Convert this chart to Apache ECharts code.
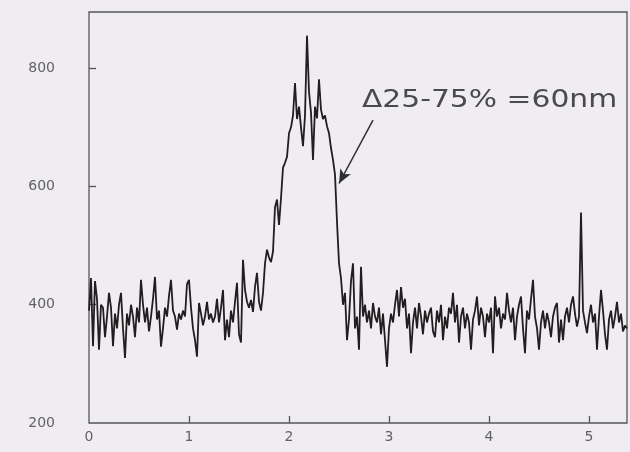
<!DOCTYPE html>
<html>
<head>
<meta charset="utf-8">
<script src="https://cdn.jsdelivr.net/npm/echarts@6/dist/echarts.min.js"></script>
<style>
html,body{margin:0;padding:0;background:#f0edf2;}
#c{width:630px;height:452px;}
</style>
</head>
<body>
<div id="c"></div>
<script>
// sample spacing along x (µm-like units)
const xStep = 0.02;
// profile values, one per sample starting at x = 0
const values = [
  390,445,330,440,410,324,400,395,345,380,
  420,395,330,385,360,400,420,360,310,385,
  365,400,380,345,395,370,442,400,370,395,
  355,380,410,447,375,390,329,360,395,380,
  415,442,390,380,358,385,375,390,380,435,
  442,395,360,340,312,403,385,365,380,405,
  375,385,370,380,410,370,395,425,340,375,
  345,390,370,405,437,350,336,476,425,405,
  395,408,388,430,454,405,390,420,470,493,
  480,472,490,565,578,535,580,632,640,650,
  690,700,720,775,714,735,700,668,720,855,
  760,725,645,735,715,781,730,714,720,702,
  690,665,645,620,540,470,445,400,420,340,
  375,440,470,360,380,324,464,380,400,370,
  390,360,403,380,370,395,350,385,340,295,
  360,385,370,400,425,380,430,395,410,360,
  385,318,370,395,360,403,380,350,390,370,
  385,395,355,345,390,370,400,340,380,360,
  395,385,420,370,400,336,380,395,360,385,
  370,324,375,390,414,365,395,380,345,385,
  370,395,318,414,380,395,360,385,375,420,
  390,370,395,340,380,400,414,360,318,390,
  375,410,442,380,360,324,370,390,360,386,
  370,345,380,395,403,336,375,340,380,395,
  370,400,414,385,363,380,556,390,370,352,
  380,400,370,385,324,380,425,390,350,324,
  375,390,360,380,405,370,385,355,365,360
];
const xTicks = [0, 1, 2, 3, 4, 5];
const yTicks = [200, 400, 600, 800];
const annotationText = 'Δ25-75% =60nm';
// arrow from label to the falling edge, in data units [x, y]
const arrowFrom = [2.84, 712];
const arrowTo = [2.50, 605];

const seriesData = values.map((v, i) => [+(i * xStep).toFixed(2), v]);

const chart = echarts.init(document.getElementById('c'), null, {renderer: 'canvas'});
const labelStyle = {color: '#626262', fontSize: 14, fontFamily: 'DejaVu Sans'};
chart.setOption({
  backgroundColor: '#f0edf2',
  animation: false,
  grid: {left: 89, right: 3, top: 12, bottom: 29, show: true, borderColor: '#555', borderWidth: 1.3, backgroundColor: 'transparent'},
  xAxis: {
    type: 'value', min: 0, max: 5.38,
    axisLine: {show: false},
    splitLine: {show: false},
    axisTick: {show: true, inside: true, length: 7, customValues: xTicks.slice(1), lineStyle: {color: '#555', width: 1.3}},
    axisLabel: Object.assign({margin: 7, customValues: xTicks}, labelStyle)
  },
  yAxis: {
    type: 'value', min: 200, max: 895,
    axisLine: {show: false},
    splitLine: {show: false},
    axisTick: {show: true, inside: true, length: 7, customValues: yTicks.slice(1), lineStyle: {color: '#555', width: 1.3}},
    axisLabel: Object.assign({margin: 34, customValues: yTicks}, labelStyle)
  },
  series: [{
    type: 'line',
    data: seriesData,
    showSymbol: false,
    lineStyle: {color: '#221e20', width: 1.8},
    markLine: {
      silent: true,
      symbol: ['none', 'arrow'],
      symbolSize: [9, 14],
      label: {show: false},
      lineStyle: {color: '#2e2e2e', width: 1.5, type: 'solid'},
      data: [[{coord: arrowFrom}, {coord: arrowTo}]]
    }
  }],
  graphic: [{
    type: 'text',
    left: 362, top: 88,
    style: {text: annotationText, fill: '#4a4a4a', font: '25px "DejaVu Sans"'},
    scaleX: 1.19
  }]
});
</script>
</body>
</html>
